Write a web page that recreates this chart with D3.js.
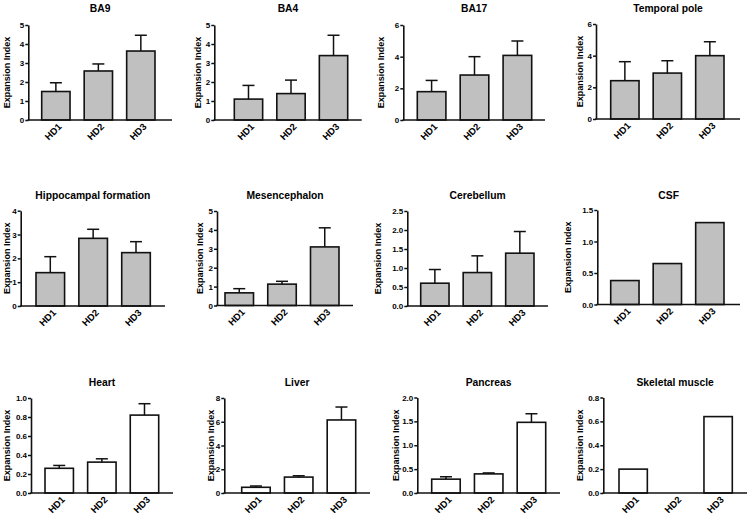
<!DOCTYPE html>
<html><head><meta charset="utf-8">
<script src="https://cdn.jsdelivr.net/npm/d3@7"></script>
<style>
body{margin:0;background:#fff}
svg{display:block}
text{font-family:"Liberation Sans",Arial,sans-serif;font-weight:bold;fill:#000}
</style>
</head><body><svg id="c" width="750" height="518"></svg>
<script>
// ---- data ----
const categories = ["HD1", "HD2", "HD3"];
const titles = ["BA9", "BA4", "BA17", "Temporal pole", "Hippocampal formation", "Mesencephalon",
  "Cerebellum", "CSF", "Heart", "Liver", "Pancreas", "Skeletal muscle"];
const means = [
  [1.5, 2.58, 3.63], [1.1, 1.39, 3.39], [1.79, 2.84, 4.08], [2.42, 2.9, 4.0],
  [1.4, 2.84, 2.24], [0.67, 1.13, 3.1], [0.6, 0.88, 1.39], [0.38, 0.65, 1.30],
  [0.26, 0.325, 0.82], [0.48, 1.34, 6.15], [0.29, 0.40, 1.48], [0.2, 0, 0.64]
];
const sems = [
  [0.46, 0.37, 0.83], [0.72, 0.71, 1.07], [0.71, 1.16, 0.91], [1.2, 0.78, 0.88],
  [0.67, 0.38, 0.46], [0.22, 0.15, 1.01], [0.36, 0.44, 0.57], null,
  [0.03, 0.035, 0.12], [0.11, 0.11, 1.09], [0.05, 0.02, 0.18], null
];
const yMaxes = [5, 5, 6, 6, 4, 5, 2.5, 1.5, 1.0, 8, 2.0, 0.8];
const tickSteps = [1, 1, 2, 2, 1, 1, 0.5, 0.5, 0.2, 2, 0.5, 0.2];
const tickDecimals = [0, 0, 0, 0, 0, 0, 1, 1, 1, 0, 1, 1];
const yLabel = "Expansion Index";

// ---- layout (pixel positions) ----
const layout = [
  {ax: 28.3, x0: 41.7, x1: 155, xe: 172, top: 25, bottom: 120, lx: 6.5, ty: 12},
  {ax: 214.3, x0: 234.3, x1: 347.7, xe: 361.7, top: 25, bottom: 120, lx: 198, ty: 12},
  {ax: 403.3, x0: 417.3, x1: 531.7, xe: 545, top: 25, bottom: 120, lx: 381, ty: 12},
  {ax: 596, x0: 610.7, x1: 724, xe: 740, top: 24, bottom: 119, lx: 579.5, ty: 12},
  {ax: 20.7, x0: 36, x1: 150.3, xe: 165, top: 210.7, bottom: 306, lx: 6.5, ty: 198.5},
  {ax: 217, x0: 225, x1: 339, xe: 353, top: 211, bottom: 305.5, lx: 200, ty: 198.5},
  {ax: 407.3, x0: 420.7, x1: 534, xe: 548, top: 211, bottom: 306, lx: 378, ty: 198.5},
  {ax: 597.3, x0: 610.7, x1: 724, xe: 740, top: 210, bottom: 304.5, lx: 568, ty: 198.5},
  {ax: 31, x0: 45, x1: 158.7, xe: 173, top: 398, bottom: 493, lx: 6.5, ty: 385.5},
  {ax: 224.3, x0: 241.7, x1: 355.7, xe: 370, top: 398, bottom: 493, lx: 211, ty: 385.5},
  {ax: 417.3, x0: 431.7, x1: 545.7, xe: 560, top: 397.5, bottom: 493, lx: 396, ty: 385.5},
  {ax: 603.3, x0: 619, x1: 732.3, xe: 747, top: 397.5, bottom: 493, lx: 580, ty: 385.5}
];
const barFills = ["#c0c0c0", "#c0c0c0", "#c0c0c0", "#c0c0c0", "#c0c0c0", "#c0c0c0",
  "#c0c0c0", "#c0c0c0", "#ffffff", "#ffffff", "#ffffff", "#ffffff"];

const svg = d3.select("#c");

titles.forEach((title, i) => {
  const L = layout[i];
  const g = svg.append("g");
  const y = d3.scaleLinear().domain([0, yMaxes[i]]).range([L.bottom, L.top]);
  const x = d3.scaleBand().domain(categories).range([L.x0, L.x1]).paddingInner(0.333).paddingOuter(0);

  // title
  g.append("text").attr("x", (L.ax + L.xe) / 2).attr("y", L.ty)
    .attr("text-anchor", "middle").style("font-size", "10.3px").text(title);

  // y label
  g.append("text")
    .attr("transform", `translate(${L.lx},${(L.top + L.bottom) / 2}) rotate(-90)`)
    .attr("text-anchor", "middle").attr("dy", "0.35em")
    .style("font-size", "9px").text(yLabel);

  // bars
  const vals = means[i];
  g.selectAll("rect.bar").data(categories).join("rect")
    .attr("class", "bar")
    .attr("x", d => x(d))
    .attr("width", x.bandwidth())
    .attr("y", (d, j) => y(vals[j]))
    .attr("height", (d, j) => y(0) - y(vals[j]))
    .attr("fill", barFills[i])
    .attr("stroke", "#111")
    .attr("stroke-width", 1.6)
    .style("display", (d, j) => vals[j] > 0 ? null : "none");

  // error bars (upper only)
  if (sems[i]) {
    const e = sems[i];
    categories.forEach((c, j) => {
      const cx = x(c) + x.bandwidth() / 2;
      const yt = y(vals[j] + e[j]);
      g.append("line").attr("x1", cx).attr("x2", cx)
        .attr("y1", y(vals[j])).attr("y2", yt)
        .attr("stroke", "#111").attr("stroke-width", 1.5);
      g.append("line").attr("x1", cx - 6).attr("x2", cx + 6)
        .attr("y1", yt).attr("y2", yt)
        .attr("stroke", "#111").attr("stroke-width", 1.5);
    });
  }

  // y axis
  const ticks = d3.range(0, yMaxes[i] + tickSteps[i] / 2, tickSteps[i]);
  const yAxis = d3.axisLeft(y).tickValues(ticks).tickSize(3).tickSizeOuter(0)
    .tickPadding(1).tickFormat(d3.format(`.${tickDecimals[i]}f`));
  const ag = g.append("g").attr("transform", `translate(${L.ax},0)`).call(yAxis);
  ag.select(".domain").attr("stroke", "#111").attr("stroke-width", 1.6);
  ag.selectAll(".tick line").attr("stroke", "#111").attr("stroke-width", 1.5);
  ag.selectAll(".tick text").style("font-size", "8px").style("font-family", "'Liberation Sans',Arial,sans-serif").style("font-weight", "bold");

  // x axis line
  g.append("line").attr("x1", L.ax - 0.8).attr("x2", L.xe)
    .attr("y1", L.bottom).attr("y2", L.bottom)
    .attr("stroke", "#111").attr("stroke-width", 1.6);

  // x labels
  g.selectAll("text.xl").data(categories).join("text")
    .attr("class", "xl")
    .attr("transform", d => `translate(${x(d) + x.bandwidth() / 2 + 3},${L.bottom + 4}) rotate(-45)`)
    .attr("text-anchor", "end").attr("dy", "0.5em")
    .style("font-size", "9.5px").text(d => d);
});
</script>
</body></html>
